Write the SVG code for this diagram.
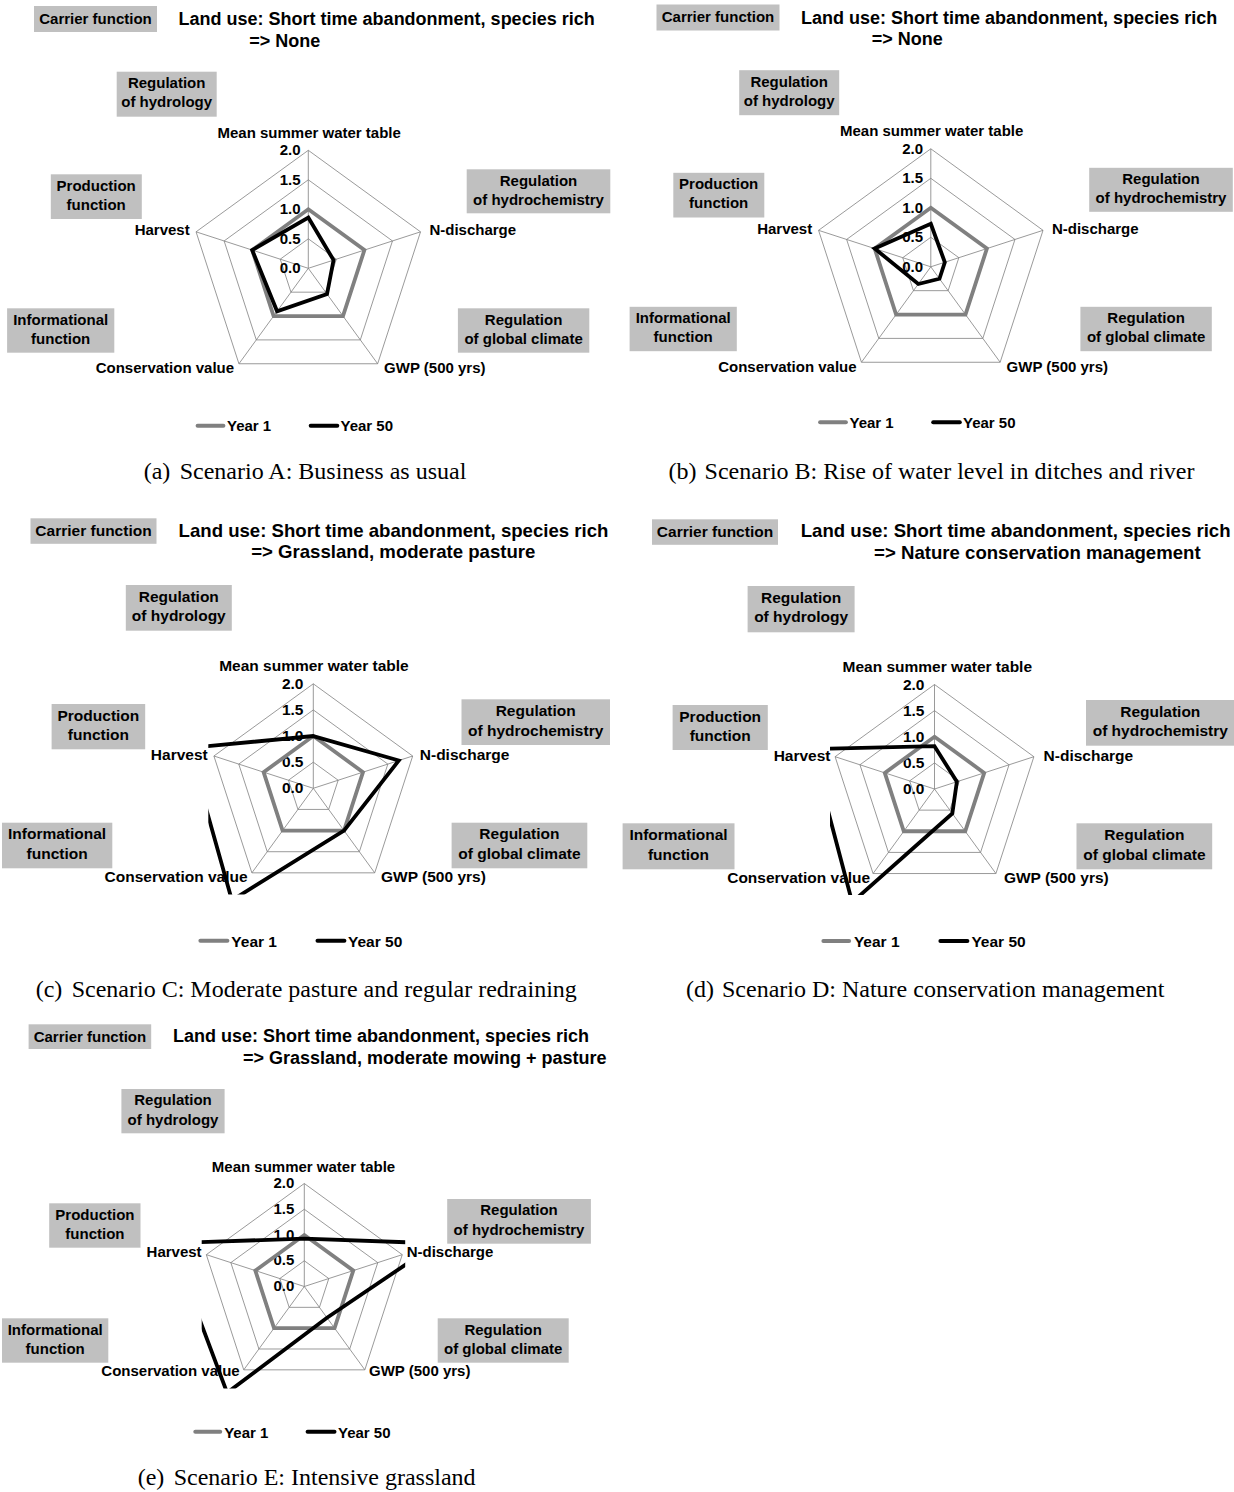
<svg xmlns="http://www.w3.org/2000/svg" xmlns:xlink="http://www.w3.org/1999/xlink" width="1234" height="1492" viewBox="0 0 1234 1492">
<style>
.bg{fill:#ffffff}
.box{fill:#c0c0c0}
.t{font-family:"Liberation Sans",Arial,sans-serif;font-weight:bold;font-size:15px;fill:#000}
.tc{font-family:"Liberation Sans",Arial,sans-serif;font-weight:bold;font-size:15.5px;fill:#000}
.tt{font-family:"Liberation Sans",Arial,sans-serif;font-weight:bold;font-size:18px;fill:#000}
.ttc{font-family:"Liberation Sans",Arial,sans-serif;font-weight:bold;font-size:18.6px;fill:#000}
.m{text-anchor:middle}
.e{text-anchor:end}
.cap{font-family:"Liberation Serif","Times New Roman",serif;font-size:24px;fill:#000}
.y1{fill:none;stroke:#808080;stroke-width:3.8;stroke-linejoin:miter}
.y50{fill:none;stroke:#000000;stroke-width:3.8;stroke-linejoin:miter}
.lg1{stroke:#808080;stroke-width:4;stroke-linecap:round}
.lg50{stroke:#000000;stroke-width:4;stroke-linecap:round}
</style>
<defs>
<g id="grid" fill="none" stroke="#808080" stroke-width="0.8">
<polygon vector-effect="non-scaling-stroke" points="0,-100 95.106,-30.902 58.779,80.902 -58.779,80.902 -95.106,-30.902"/>
<polygon vector-effect="non-scaling-stroke" points="0,-75 71.329,-23.176 44.084,60.676 -44.084,60.676 -71.329,-23.176"/>
<polygon vector-effect="non-scaling-stroke" points="0,-50 47.553,-15.451 29.389,40.451 -29.389,40.451 -47.553,-15.451"/>
<polygon vector-effect="non-scaling-stroke" points="0,-25 23.776,-7.725 14.695,20.225 -14.695,20.225 -23.776,-7.725"/>
<path vector-effect="non-scaling-stroke" d="M0,0V-100M0,0L95.106,-30.902M0,0L58.779,80.902M0,0L-58.779,80.902M0,0L-95.106,-30.902"/>
</g>
<clipPath id="clipC" clipPathUnits="userSpaceOnUse"><rect x="208.3" y="670" width="220" height="224.5"/></clipPath>
<clipPath id="clipD" clipPathUnits="userSpaceOnUse"><rect x="830" y="670" width="220" height="225"/></clipPath>
<clipPath id="clipE" clipPathUnits="userSpaceOnUse"><rect x="201.7" y="1170" width="203.5" height="218.5"/></clipPath>
</defs>
<rect class="bg" x="0" y="0" width="1234" height="1492"/>

<!-- ============ Panel A ============ -->
<g id="panel-a">
<g id="a-carrier"><rect class="box" x="34" y="6" width="123" height="26"/><text class="t m" x="95.5" y="23.5">Carrier function</text></g>
<text class="tt" x="178.6" y="25.3">Land use: Short time abandonment, species rich</text>
<text class="tt" x="249.2" y="46.7">=&gt; None</text>
<g id="a-hydrology"><rect class="box" x="116.7" y="71.7" width="100" height="45"/><text class="t m" x="166.7" y="88">Regulation</text><text class="t m" x="166.7" y="107.2">of hydrology</text></g>
<g id="a-production"><rect class="box" x="50.8" y="174.3" width="91" height="44.7"/><text class="t m" x="96.2" y="190.6">Production</text><text class="t m" x="96.2" y="209.8">function</text></g>
<g id="a-hydrochem"><rect class="box" x="466.7" y="169.3" width="143.6" height="44"/><text class="t m" x="538.5" y="185.6">Regulation</text><text class="t m" x="538.5" y="204.8">of hydrochemistry</text></g>
<g id="a-informational"><rect class="box" x="7.1" y="308.3" width="107.2" height="44.4"/><text class="t m" x="60.7" y="324.6">Informational</text><text class="t m" x="60.7" y="343.8">function</text></g>
<g id="a-climate"><rect class="box" x="457.9" y="308.3" width="131.4" height="44.4"/><text class="t m" x="523.6" y="324.6">Regulation</text><text class="t m" x="523.6" y="343.8">of global climate</text></g>
<use xlink:href="#grid" href="#grid" transform="translate(308.3,268.3) scale(1.18)"/>
<text class="t m" x="309.2" y="137.5">Mean summer water table</text>
<text class="t e" x="300.5" y="155.3">2.0</text><text class="t e" x="300.5" y="184.8">1.5</text><text class="t e" x="300.5" y="214.3">1.0</text><text class="t e" x="300.5" y="243.8">0.5</text><text class="t e" x="300.5" y="273.3">0.0</text>
<text class="t e" x="189.7" y="235.3">Harvest</text>
<text class="t" x="429.4" y="235.3">N-discharge</text>
<text class="t e" x="234.1" y="373.3">Conservation value</text>
<text class="t" x="384.1" y="373.3">GWP (500 yrs)</text>
<g transform="translate(308.3,268.3) scale(1.18)">
<polygon class="y1" vector-effect="non-scaling-stroke" points="0,-50 47.553,-15.451 29.389,40.451 -29.389,40.451 -47.553,-15.451"/>
<polygon class="y50" vector-effect="non-scaling-stroke" points="0,-43 21.399,-6.953 15.870,21.844 -26.451,36.406 -47.553,-15.451"/>
</g>
<line class="lg1" x1="197.6" y1="425.7" x2="223.4" y2="425.7"/><text class="t" x="227" y="431">Year 1</text>
<line class="lg50" x1="310.7" y1="425.7" x2="337.3" y2="425.7"/><text class="t" x="340.5" y="431">Year 50</text>
<text class="cap" x="143.7" y="479">(a)</text><text class="cap" x="179.7" y="479">Scenario A: Business as usual</text>
</g>

<!-- ============ Panel B ============ -->
<g id="panel-b">
<g id="b-carrier"><rect class="box" x="656.5" y="4.5" width="123" height="26"/><text class="t m" x="718" y="22">Carrier function</text></g>
<text class="tt" x="801.1" y="23.8">Land use: Short time abandonment, species rich</text>
<text class="tt" x="871.7" y="45.2">=&gt; None</text>
<g id="b-hydrology"><rect class="box" x="739.2" y="70.2" width="100" height="45"/><text class="t m" x="789.2" y="86.5">Regulation</text><text class="t m" x="789.2" y="105.7">of hydrology</text></g>
<g id="b-production"><rect class="box" x="673.3" y="172.8" width="91" height="44.7"/><text class="t m" x="718.7" y="189.1">Production</text><text class="t m" x="718.7" y="208.3">function</text></g>
<g id="b-hydrochem"><rect class="box" x="1089.2" y="167.8" width="143.6" height="44"/><text class="t m" x="1161" y="184.1">Regulation</text><text class="t m" x="1161" y="203.3">of hydrochemistry</text></g>
<g id="b-informational"><rect class="box" x="629.6" y="306.8" width="107.2" height="44.4"/><text class="t m" x="683.2" y="323.1">Informational</text><text class="t m" x="683.2" y="342.3">function</text></g>
<g id="b-climate"><rect class="box" x="1080.4" y="306.8" width="131.4" height="44.4"/><text class="t m" x="1146.1" y="323.1">Regulation</text><text class="t m" x="1146.1" y="342.3">of global climate</text></g>
<use xlink:href="#grid" href="#grid" transform="translate(930.8,266.8) scale(1.18)"/>
<text class="t m" x="931.7" y="136">Mean summer water table</text>
<text class="t e" x="923" y="153.8">2.0</text><text class="t e" x="923" y="183.3">1.5</text><text class="t e" x="923" y="212.8">1.0</text><text class="t e" x="923" y="242.3">0.5</text><text class="t e" x="923" y="271.8">0.0</text>
<text class="t e" x="812.2" y="233.8">Harvest</text>
<text class="t" x="1051.9" y="233.8">N-discharge</text>
<text class="t e" x="856.6" y="371.8">Conservation value</text>
<text class="t" x="1006.6" y="371.8">GWP (500 yrs)</text>
<g transform="translate(930.8,266.8) scale(1.18)">
<polygon class="y1" vector-effect="non-scaling-stroke" points="0,-50 47.553,-15.451 29.389,40.451 -29.389,40.451 -47.553,-15.451"/>
<polygon class="y50" vector-effect="non-scaling-stroke" points="0,-36.5 11.888,-3.863 7.347,10.113 -10.580,14.562 -47.553,-15.451"/>
</g>
<line class="lg1" x1="820.1" y1="422.2" x2="845.9" y2="422.2"/><text class="t" x="849.5" y="427.5">Year 1</text>
<line class="lg50" x1="933.2" y1="422.2" x2="959.8" y2="422.2"/><text class="t" x="963" y="427.5">Year 50</text>
<text class="cap" x="668.6" y="479">(b)</text><text class="cap" x="704.6" y="479">Scenario B: Rise of water level in ditches and river</text>
</g>

<!-- ============ Panel C ============ -->
<g id="panel-c">
<g id="c-carrier"><rect class="box" x="30.5" y="518.3" width="126" height="25.5"/><text class="tc m" x="93.5" y="535.8">Carrier function</text></g>
<text class="ttc" x="178.6" y="536.7">Land use: Short time abandonment, species rich</text>
<text class="ttc" x="251.2" y="558.3">=&gt; Grassland, moderate pasture</text>
<g id="c-hydrology"><rect class="box" x="125.8" y="585" width="106" height="45.7"/><text class="tc m" x="178.8" y="601.5">Regulation</text><text class="tc m" x="178.8" y="621">of hydrology</text></g>
<g id="c-production"><rect class="box" x="51.6" y="704" width="93.6" height="45.3"/><text class="tc m" x="98.4" y="720.6">Production</text><text class="tc m" x="98.4" y="740.2">function</text></g>
<g id="c-hydrochem"><rect class="box" x="461.5" y="699.3" width="148.5" height="45.7"/><text class="tc m" x="535.7" y="715.9">Regulation</text><text class="tc m" x="535.7" y="735.5">of hydrochemistry</text></g>
<g id="c-informational"><rect class="box" x="2" y="822.7" width="110.3" height="45.6"/><text class="tc m" x="57.1" y="839.3">Informational</text><text class="tc m" x="57.1" y="858.9">function</text></g>
<g id="c-climate"><rect class="box" x="451.6" y="822.7" width="135.7" height="45.6"/><text class="tc m" x="519.4" y="839.3">Regulation</text><text class="tc m" x="519.4" y="858.9">of global climate</text></g>
<use xlink:href="#grid" href="#grid" transform="translate(313.3,788.3) scale(1.045)"/>
<text class="tc m" x="313.9" y="670.7">Mean summer water table</text>
<text class="tc e" x="303.5" y="688.8">2.0</text><text class="tc e" x="303.5" y="714.9">1.5</text><text class="tc e" x="303.5" y="741.1">1.0</text><text class="tc e" x="303.5" y="767.2">0.5</text><text class="tc e" x="303.5" y="793.3">0.0</text>
<text class="tc e" x="207.7" y="760">Harvest</text>
<text class="tc" x="419.8" y="760">N-discharge</text>
<text class="tc e" x="247.6" y="881.7">Conservation value</text>
<text class="tc" x="381" y="881.7">GWP (500 yrs)</text>
<g clip-path="url(#clipC)">
<g transform="translate(313.3,788.3) scale(1.045)">
<polygon class="y1" vector-effect="non-scaling-stroke" points="0,-50 47.553,-15.451 29.389,40.451 -29.389,40.451 -47.553,-15.451"/>
<polygon class="y50" vector-effect="non-scaling-stroke" points="0,-50 81.791,-26.576 29.389,40.451 -77.882,107.195 -118.883,-38.628"/>
</g>
</g>
<line class="lg1" x1="200.4" y1="940.7" x2="227.4" y2="940.7"/><text class="tc" x="231.3" y="946.5">Year 1</text>
<line class="lg50" x1="317.5" y1="940.7" x2="344.4" y2="940.7"/><text class="tc" x="348" y="946.5">Year 50</text>
<text class="cap" x="35.7" y="997">(c)</text><text class="cap" x="71.7" y="997">Scenario C: Moderate pasture and regular redraining</text>
</g>

<!-- ============ Panel D ============ -->
<g id="panel-d">
<g id="d-carrier"><rect class="box" x="652" y="519.3" width="126" height="25.5"/><text class="tc m" x="715" y="536.8">Carrier function</text></g>
<text class="ttc" x="800.7" y="537.3">Land use: Short time abandonment, species rich</text>
<text class="ttc" x="874.1" y="559.3">=&gt; Nature conservation management</text>
<g id="d-hydrology"><rect class="box" x="747.6" y="586" width="107" height="46.3"/><text class="tc m" x="801.1" y="602.5">Regulation</text><text class="tc m" x="801.1" y="622">of hydrology</text></g>
<g id="d-production"><rect class="box" x="672.6" y="705" width="95.2" height="45"/><text class="tc m" x="720.2" y="721.6">Production</text><text class="tc m" x="720.2" y="741.2">function</text></g>
<g id="d-hydrochem"><rect class="box" x="1086" y="700" width="148.5" height="45.7"/><text class="tc m" x="1160.3" y="716.6">Regulation</text><text class="tc m" x="1160.3" y="736.2">of hydrochemistry</text></g>
<g id="d-informational"><rect class="box" x="622.6" y="823.3" width="111.9" height="46"/><text class="tc m" x="678.5" y="839.9">Informational</text><text class="tc m" x="678.5" y="859.5">function</text></g>
<g id="d-climate"><rect class="box" x="1076.5" y="823.3" width="135.7" height="46"/><text class="tc m" x="1144.4" y="839.9">Regulation</text><text class="tc m" x="1144.4" y="859.5">of global climate</text></g>
<use xlink:href="#grid" href="#grid" transform="translate(934.5,789) scale(1.045)"/>
<text class="tc m" x="937.3" y="671.7">Mean summer water table</text>
<text class="tc e" x="924.5" y="689.5">2.0</text><text class="tc e" x="924.5" y="715.6">1.5</text><text class="tc e" x="924.5" y="741.8">1.0</text><text class="tc e" x="924.5" y="767.9">0.5</text><text class="tc e" x="924.5" y="794">0.0</text>
<text class="tc e" x="830.5" y="760.7">Harvest</text>
<text class="tc" x="1043.6" y="760.7">N-discharge</text>
<text class="tc e" x="870.2" y="882.7">Conservation value</text>
<text class="tc" x="1003.9" y="882.7">GWP (500 yrs)</text>
<g clip-path="url(#clipD)">
<g transform="translate(934.5,789) scale(1.045)">
<polygon class="y1" vector-effect="non-scaling-stroke" points="0,-50 47.553,-15.451 29.389,40.451 -29.389,40.451 -47.553,-15.451"/>
<polygon class="y50" vector-effect="non-scaling-stroke" points="0,-41 21.399,-6.953 17.046,23.462 -78.764,108.409 -117.456,-38.164"/>
</g>
</g>
<line class="lg1" x1="823.4" y1="941" x2="849.1" y2="941"/><text class="tc" x="853.9" y="947">Year 1</text>
<line class="lg50" x1="940.4" y1="941" x2="967.4" y2="941"/><text class="tc" x="971.4" y="947">Year 50</text>
<text class="cap" x="686" y="997">(d)</text><text class="cap" x="722" y="997">Scenario D: Nature conservation management</text>
</g>

<!-- ============ Panel E ============ -->
<g id="panel-e">
<g id="e-carrier"><rect class="box" x="28.6" y="1024.3" width="122.6" height="24.7"/><text class="t m" x="89.9" y="1041.6">Carrier function</text></g>
<text class="tt" x="173" y="1041.7">Land use: Short time abandonment, species rich</text>
<text class="tt" x="242.9" y="1063.7">=&gt; Grassland, moderate mowing + pasture</text>
<g id="e-hydrology"><rect class="box" x="121.4" y="1089" width="103.2" height="44.3"/><text class="t m" x="173" y="1105.3">Regulation</text><text class="t m" x="173" y="1124.5">of hydrology</text></g>
<g id="e-production"><rect class="box" x="49.2" y="1203.3" width="91.3" height="44.4"/><text class="t m" x="94.9" y="1219.6">Production</text><text class="t m" x="94.9" y="1238.8">function</text></g>
<g id="e-hydrochem"><rect class="box" x="447.2" y="1199" width="143.7" height="44.7"/><text class="t m" x="519" y="1215.3">Regulation</text><text class="t m" x="519" y="1234.5">of hydrochemistry</text></g>
<g id="e-informational"><rect class="box" x="2" y="1318.3" width="106.3" height="44.4"/><text class="t m" x="55.2" y="1334.6">Informational</text><text class="t m" x="55.2" y="1353.8">function</text></g>
<g id="e-climate"><rect class="box" x="437.7" y="1318.3" width="131" height="44.4"/><text class="t m" x="503.2" y="1334.6">Regulation</text><text class="t m" x="503.2" y="1353.8">of global climate</text></g>
<use xlink:href="#grid" href="#grid" transform="translate(304.3,1286.5) scale(1.03)"/>
<text class="t m" x="303.5" y="1171.7">Mean summer water table</text>
<text class="t e" x="294.3" y="1188">2.0</text><text class="t e" x="294.3" y="1213.8">1.5</text><text class="t e" x="294.3" y="1239.5">1.0</text><text class="t e" x="294.3" y="1265.3">0.5</text><text class="t e" x="294.3" y="1291">0.0</text>
<text class="t e" x="201.6" y="1257.3">Harvest</text>
<text class="t" x="406.7" y="1257.3">N-discharge</text>
<text class="t e" x="239.7" y="1375.7">Conservation value</text>
<text class="t" x="369" y="1375.7">GWP (500 yrs)</text>
<g clip-path="url(#clipE)">
<g transform="translate(304.3,1286.5) scale(1.03)">
<polygon class="y1" vector-effect="non-scaling-stroke" points="0,-50 47.553,-15.451 29.389,40.451 -29.389,40.451 -47.553,-15.451"/>
<polygon class="y50" vector-effect="non-scaling-stroke" points="0,-46.5 128.869,-41.872 22.042,30.338 -74.943,103.150 -129.344,-42.027"/>
</g>
</g>
<line class="lg1" x1="195.3" y1="1431.7" x2="220.2" y2="1431.7"/><text class="t" x="224.2" y="1437.5">Year 1</text>
<line class="lg50" x1="307.6" y1="1431.7" x2="334.5" y2="1431.7"/><text class="t" x="338" y="1437.5">Year 50</text>
<text class="cap" x="137.7" y="1485">(e)</text><text class="cap" x="173.7" y="1485">Scenario E: Intensive grassland</text>
</g>
</svg>
